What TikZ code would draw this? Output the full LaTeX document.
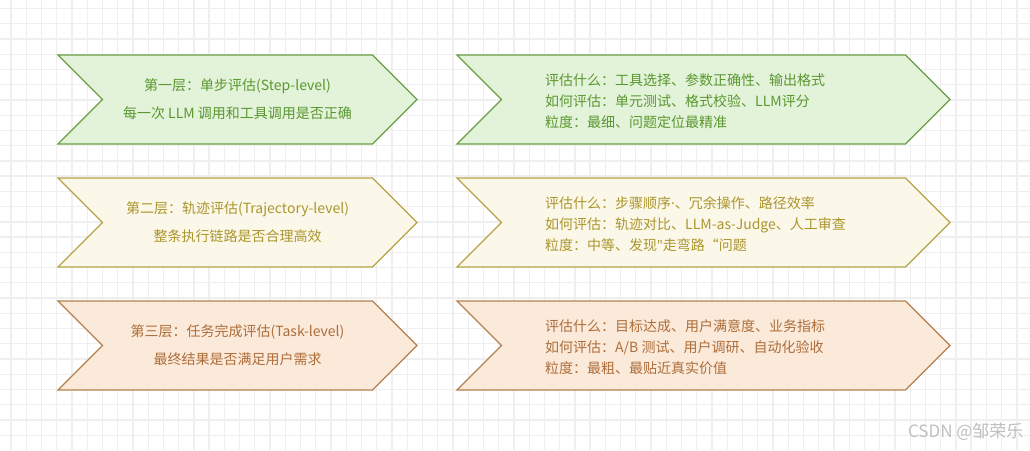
\documentclass[tikz,border=0pt]{standalone}
\usepackage{fontspec}
\setmainfont{Noto Sans CJK SC}
\newfontfamily\latinfont{Noto Sans}
\usetikzlibrary{shapes.symbols}
\definecolor{gridgray}{HTML}{EFEFEF}
\definecolor{stepfill}{HTML}{E3F3DA}
\definecolor{stepline}{HTML}{6A9E45}
\definecolor{steptext}{HTML}{5A972F}
\definecolor{trajfill}{HTML}{FCF8E9}
\definecolor{trajline}{HTML}{B5A44A}
\definecolor{trajtext}{HTML}{AA952E}
\definecolor{taskfill}{HTML}{FBE9DA}
\definecolor{taskline}{HTML}{B58050}
\definecolor{tasktext}{HTML}{AD6E3A}

\begin{document}
\begin{tikzpicture}[x=1pt,y=-1pt]

  \tikzstyle{every node}=[font=\fontsize{14}{16}\selectfont,align=center]
  \tikzstyle{chevron}=[signal,signal from=west,signal to=east,signal pointer angle=90,
    draw,line width=1.3pt,minimum height=89pt,inner sep=0pt]
  \tikzstyle{layerbox}=[chevron,minimum width=359pt,font=\fontsize{14}{28}\selectfont]
  \tikzstyle{infobox}=[chevron,minimum width=493pt]
  \tikzstyle{infotext}=[anchor=west,align=left,inner sep=0pt,font=\fontsize{14}{21}\selectfont]
  \tikzstyle{steprow}=[fill=stepfill,draw=stepline,text=steptext]
  \tikzstyle{trajrow}=[fill=trajfill,draw=trajline,text=trajtext]
  \tikzstyle{taskrow}=[fill=taskfill,draw=taskline,text=tasktext]

  % background grid
  \fill[white] (0,0) rectangle (1030,450);
  \useasboundingbox (0,0) rectangle (1030,450);
  \foreach \gx in {0,...,66}
    \draw[gridgray,line width=1.3pt] ({11+15.24*\gx},0) -- ({11+15.24*\gx},450);
  \foreach \gy in {0,...,28}
    \draw[gridgray,line width=1.3pt] (0,{8.5+15.24*\gy}) -- (1030,{8.5+15.24*\gy});

  % left column
  \node[layerbox,steprow] (steplayer) at (237.5,99.5)
    {第一层：单步评估(Step-level) \\ 每一次 LLM 调用和工具调用是否正确};
  \node[layerbox,trajrow] (trajlayer) at (237.5,222.5)
    {第二层：轨迹评估(Trajectory-level) \\ 整条执行链路是否合理高效};
  \node[layerbox,taskrow] (tasklayer) at (237.5,345.5)
    {第三层：任务完成评估(Task-level) \\ 最终结果是否满足用户需求};

  % right column
  \node[infobox,steprow] (stepinfo) at (703.5,99.5) {};
  \node[infobox,trajrow] (trajinfo) at (703.5,222.5) {};
  \node[infobox,taskrow] (taskinfo) at (703.5,345.5) {};

  \node[infotext,text=steptext] (stepdetail) at (545,101)
    {评估什么：工具选择、参数正确性、输出格式 \\ 如何评估：单元测试、格式校验、LLM评分 \\ 粒度：最细、问题定位最精准};
  \node[infotext,text=trajtext] (trajdetail) at (545,224)
    {评估什么：步骤顺序{\latinfont ·}、冗余操作、路径效率 \\ 如何评估：轨迹对比、LLM-as-Judge、人工审查 \\ 粒度：中等、发现{\latinfont\char34}走弯路“问题};
  \node[infotext,text=tasktext] (taskdetail) at (545,347)
    {评估什么：目标达成、用户满意度、业务指标 \\ 如何评估：A/B 测试、用户调研、自动化验收 \\ 粒度：最粗、最贴近真实价值};

  \node[anchor=east,text=black!25,font=\fontsize{17}{18}\selectfont] (mark) at (1027,432) {CSDN @邹荣乐};

\end{tikzpicture}
\end{document}
